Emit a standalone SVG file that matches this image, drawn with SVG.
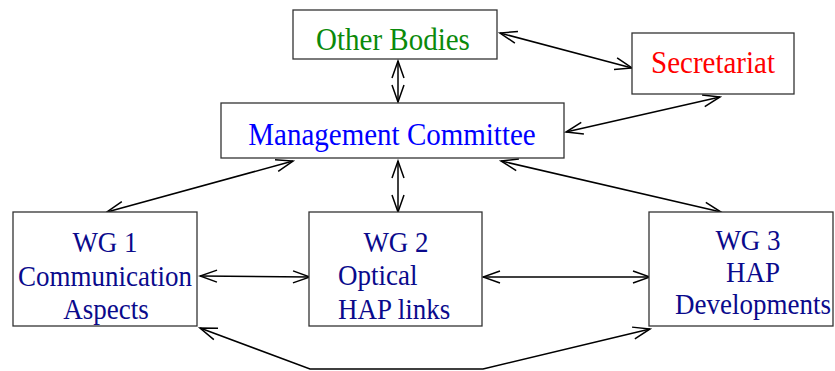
<svg xmlns="http://www.w3.org/2000/svg" width="835" height="371" viewBox="0 0 835 371">
<style>
.box{fill:#fff;stroke:#333;stroke-width:1.3}
.t{font-family:"Liberation Serif","Times New Roman",serif;font-size:29px}
.w{font-family:"Liberation Serif","Times New Roman",serif;font-size:27px;fill:#0a0a8c}
.c{fill:none;stroke:#000;stroke-width:1.5;marker-start:url(#a);marker-end:url(#a)}
</style>
<defs>
<marker id="a" markerUnits="userSpaceOnUse" viewBox="-19 -8 21 16" markerWidth="21" markerHeight="16" refX="0" refY="0" orient="auto-start-reverse">
<path d="M-17,-6 L0,0 L-17,6" fill="none" stroke="#000" stroke-width="1.5"/>
</marker>
</defs>
<rect width="835" height="371" fill="#fff"/>
<g id="connectors">
<line class="c" x1="500" y1="33" x2="632" y2="68"/>
<line class="c" x1="398" y1="61" x2="398" y2="102"/>
<line class="c" x1="720" y1="97" x2="566" y2="132"/>
<line class="c" x1="293" y1="161" x2="107" y2="212"/>
<line class="c" x1="398" y1="161" x2="398" y2="212"/>
<line class="c" x1="501" y1="161" x2="721" y2="212"/>
<line class="c" x1="200" y1="276" x2="310" y2="277"/>
<line class="c" x1="483" y1="277" x2="650" y2="277"/>
<polyline class="c" points="200,328 310,369 483,369 650,329"/>
</g>
<g id="other-bodies">
<rect class="box" x="293" y="10" width="204" height="49"/>
<text class="t" transform="translate(393 50) scale(1 1.1)" fill="#0a8a0a" text-anchor="middle">Other Bodies</text>
</g>
<g id="secretariat">
<rect class="box" x="632" y="33" width="162" height="61"/>
<text class="t" transform="translate(713 73) scale(1 1.1)" fill="#ff0000" text-anchor="middle">Secretariat</text>
</g>
<g id="management-committee">
<rect class="box" x="221" y="103" width="343" height="55"/>
<text class="t" transform="translate(392 145) scale(1 1.1)" fill="#0000ff" text-anchor="middle">Management Committee</text>
</g>
<g id="wg1">
<rect class="box" x="13" y="212" width="184" height="114"/>
<text class="w" transform="translate(105 252) scale(1 1.1)" text-anchor="middle">WG 1</text>
<text class="w" transform="translate(105 286) scale(1 1.1)" text-anchor="middle">Communication</text>
<text class="w" transform="translate(106 319) scale(1 1.1)" text-anchor="middle">Aspects</text>
</g>
<g id="wg2">
<rect class="box" x="309" y="212" width="173" height="114"/>
<text class="w" transform="translate(396 252) scale(1 1.1)" text-anchor="middle">WG 2</text>
<text class="w" transform="translate(338 285) scale(1 1.1)">Optical</text>
<text class="w" transform="translate(338 319) scale(1 1.1)">HAP links</text>
</g>
<g id="wg3">
<rect class="box" x="649" y="212" width="184" height="114"/>
<text class="w" transform="translate(748 250) scale(1 1.1)" text-anchor="middle">WG 3</text>
<text class="w" transform="translate(753 282) scale(1 1.1)" text-anchor="middle">HAP</text>
<text class="w" transform="translate(753 314) scale(1 1.1)" text-anchor="middle">Developments</text>
</g>
</svg>
